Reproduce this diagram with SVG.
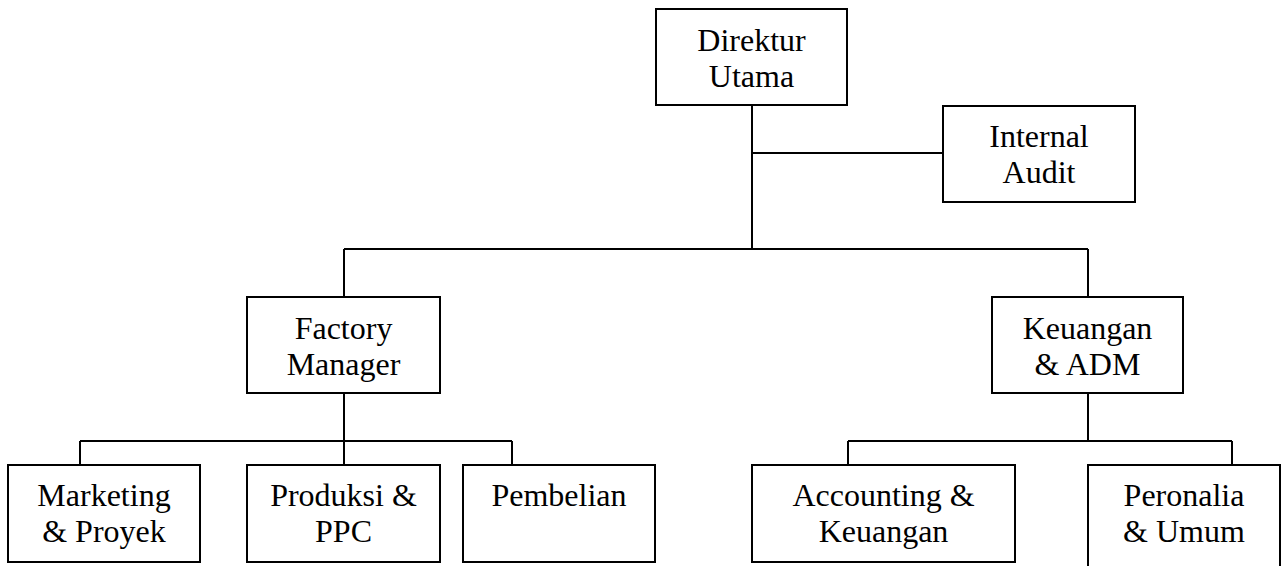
<svg xmlns="http://www.w3.org/2000/svg" width="1285" height="566" viewBox="0 0 1285 566">
<style>
.box{fill:#fff;stroke:#000;stroke-width:2}
.ln{fill:none;stroke:#000;stroke-width:2}
text{font-family:"Liberation Serif","Times New Roman",serif;font-size:32px;fill:#000;text-anchor:middle}
</style>
<rect width="1285" height="566" fill="#fff"/>
<g id="connectors" class="ln">
<path d="M752,105 V249"/>
<path d="M752,153 H943"/>
<path d="M344,249 H1088"/>
<path d="M344,249 V297"/>
<path d="M1088,249 V297"/>
<path d="M344,393 V465"/>
<path d="M80,441 H512"/>
<path d="M80,441 V465"/>
<path d="M512,441 V465"/>
<path d="M1088,393 V441"/>
<path d="M848,441 H1232"/>
<path d="M848,441 V465"/>
<path d="M1232,441 V465"/>
</g>
<g id="direktur"><rect class="box" x="656" y="9" width="191" height="96"/><text x="751.5" y="51">Direktur</text><text x="751.5" y="87">Utama</text></g>
<g id="internal-audit"><rect class="box" x="943" y="106" width="192" height="96"/><text x="1039" y="147">Internal</text><text x="1039" y="183">Audit</text></g>
<g id="factory-manager"><rect class="box" x="247" y="297" width="193" height="96"/><text x="343.5" y="339">Factory</text><text x="343.5" y="375">Manager</text></g>
<g id="keuangan-adm"><rect class="box" x="992" y="297" width="191" height="96"/><text x="1087.5" y="339">Keuangan</text><text x="1087.5" y="375">&amp; ADM</text></g>
<g id="marketing"><rect class="box" x="8" y="465" width="192" height="97"/><text x="104" y="506">Marketing</text><text x="104" y="542">&amp; Proyek</text></g>
<g id="produksi"><rect class="box" x="247" y="465" width="193" height="97"/><text x="343.5" y="506">Produksi &amp;</text><text x="343.5" y="542">PPC</text></g>
<g id="pembelian"><rect class="box" x="463" y="465" width="192" height="97"/><text x="559" y="506">Pembelian</text></g>
<g id="accounting"><rect class="box" x="752" y="465" width="263" height="97"/><text x="883.5" y="506">Accounting &amp;</text><text x="883.5" y="542">Keuangan</text></g>
<g id="peronalia"><rect class="box" x="1088" y="465" width="192" height="110"/><text x="1184" y="506">Peronalia</text><text x="1184" y="542">&amp; Umum</text></g>
</svg>
